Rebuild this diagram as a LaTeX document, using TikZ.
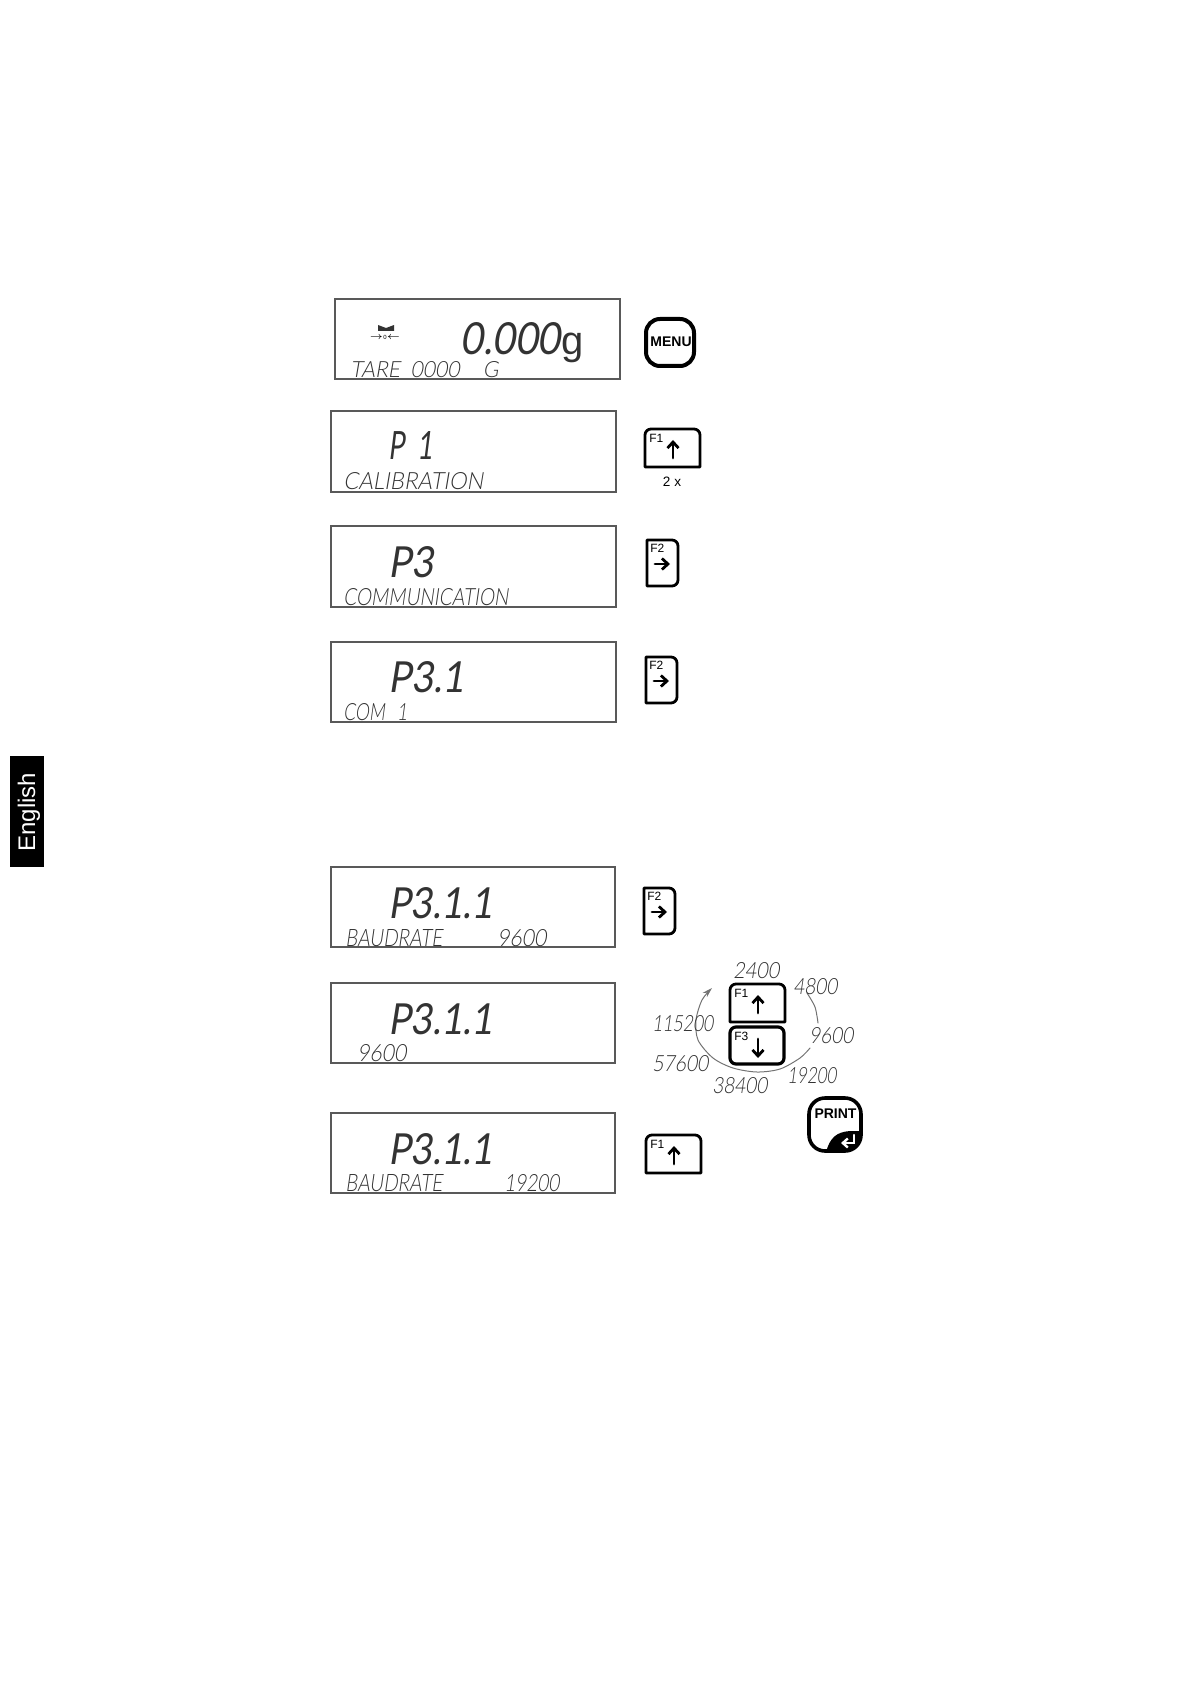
\documentclass[tikz,border=0pt]{standalone}
\usepackage{fontspec}
\usepackage{graphicx}
\setmainfont{Liberation Sans}
\newfontfamily\lcdfont[FakeSlant=0.18]{Lato Light}
\newfontfamily\lcdbigfont[FakeSlant=0.18]{Lato}
\usetikzlibrary{arrows.meta}

\newlength{\pxu}
\setlength{\pxu}{.5pt}

\tikzset{
	lcdbox/.style={draw=black!65, line width=.75pt},
	lcdtext/.style={anchor=south west, inner sep=0pt, text=black!80},
	keyframe/.style={draw=black, line width=1.4pt, line join=round},
	keyarrow/.style={line width=1.4pt, -{Straight Barb[length=3pt,width=5.5pt]}},
	keylabel/.style={anchor=north west, inner sep=0pt, font=\fontsize{6}{6}\selectfont},
	keytext/.style={inner sep=0pt, font=\bfseries\fontsize{7}{8}\selectfont},
}

% One line of display text, fitted to its width and height in pixels
\newcommand{\lcdline}[6]{\node[lcdtext] (#1) at (#2,#3) {\resizebox{#4\pxu}{#5\pxu}{\lcdfont #6}};}

% Key with F1 and arrow up, top left corner at (#2,#3)
\newcommand{\keyup}[3]{
	\draw[keyframe] (#2,#3+38) [rounded corners=3pt] -- (#2,#3) -- (#2+55,#3) [sharp corners] -- (#2+55,#3+38) -- cycle;
	\node[keylabel] (#1) at (#2+4,#3+5) {F1};
	\draw[keyarrow] (#2+28,#3+29) -- (#2+28,#3+11);
}

\begin{document}
\begin{tikzpicture}[x=.5pt, y=-.5pt, line cap=round]
	% Page size in pixels
	\useasboundingbox (0,0) rectangle (1191,1684);

	% Language tab
	\fill[black] (10,756) rectangle (44,867);
	\node[rotate=90, text=white, inner sep=0pt, font=\fontsize{12}{14}\selectfont] (tab) at (29,812) {English};

	% Display frames
	\draw[lcdbox] (335,299) rectangle (620,379);
	\foreach \ytop/\yend in {411/492,526/607,642/722} {
		\draw[lcdbox] (331,\ytop) rectangle (616,\yend);
	}
	\foreach \ytop/\yend in {867/947,983/1063,1113/1193} {
		\draw[lcdbox] (331,\ytop) rectangle (615,\yend);
	}

	% Display 1
	\lcdline{tare}{460}{355}{100}{32}{\lcdbigfont 0.000}
	\node[anchor=base west, inner sep=0pt, text=black!80, font=\fontsize{20}{20}\selectfont] (unit) at (561,355) {g};
	\lcdline{taresub}{350}{378}{148}{16}{TARE\hspace{.5em}0000\hspace{1.1em}G}
	\fill[black!80] (378,325) -- (386,328) -- (394,325) -- (394,331) -- (378,331) -- cycle;
	\node[inner sep=0pt, font=\fontsize{3}{3}\selectfont] (zero) at (385,337) {$\rightarrow$0$\leftarrow$};

	% Displays 2 to 4
	\lcdline{pone}{388}{460}{45}{28}{\lcdbigfont P\hspace{.5em}1}
	\lcdline{calib}{343}{490}{140}{17}{CALIBRATION}
	\lcdline{pthree}{388}{578}{45}{31}{\lcdbigfont P3}
	\lcdline{commun}{343}{606}{165}{17}{COMMUNICATION}
	\lcdline{pthreeone}{388}{693}{76}{31}{\lcdbigfont P3.1}
	\lcdline{comone}{343}{721}{64}{17}{COM\hspace{.7em}1}

	% Displays 5 to 7
	\foreach \name/\ybase in {pa/919,pb/1035,pc/1165} {
		\lcdline{\name}{388}{\ybase}{105}{31}{\lcdbigfont P3.1.1}
	}
	\lcdline{bauda}{345}{947}{97}{17}{BAUDRATE}
	\lcdline{ratea}{497}{947}{49}{17}{9600}
	\lcdline{rateb}{357}{1062}{49}{17}{9600}
	\lcdline{baudc}{345}{1192}{97}{17}{BAUDRATE}
	\lcdline{ratec}{504}{1192}{55}{17}{19200}

	% Menu key
	\draw[keyframe, line width=2pt, rounded corners=7pt] (646,319) rectangle (694,366);
	\node[keytext] (menu) at (671,342) {MENU};

	% F1 keys
	\keyup{fonea}{645}{429}
	\node[inner sep=0pt, font=\fontsize{6.8}{8}\selectfont] (times) at (672,482) {2 x};
	\keyup{foneb}{730}{984}
	\keyup{fonec}{646}{1135}

	% F2 keys
	\foreach \name/\x/\y in {ftwoa/647/540,ftwob/646/657,ftwoc/644/888} {
		\draw[keyframe] (\x,\y+46) [rounded corners=3pt] -- (\x+31,\y+46) -- (\x+31,\y) [sharp corners] -- (\x,\y) -- cycle;
		\node[keylabel] (\name) at (\x+3,\y+4) {F2};
		\draw[keyarrow] (\x+8,\y+24) -- (\x+23,\y+24);
	}

	% F3 key
	\draw[keyframe, line width=1.6pt, rounded corners=3pt] (730,1027) rectangle (784,1064);
	\node[keylabel] (fthree) at (734,1032) {F3};
	\draw[keyarrow] (758,1039) -- (758,1058);

	% Rate wheel
	\draw[black!55, line width=.5pt, smooth] plot coordinates {(807,993) (815,1007) (818,1023)};
	\draw[black!55, line width=.5pt, smooth, -{Stealth[length=5pt,width=3pt]}] plot coordinates {(810,1048) (800,1058) (780,1069) (757,1072) (733,1068) (713,1058) (698,1040) (696,1020) (702,1000) (712,988)};
	\lcdline{wa}{733}{979}{46}{16}{2400}
	\lcdline{wb}{793}{995}{44}{16}{4800}
	\lcdline{wc}{809}{1044}{44}{16}{9600}
	\lcdline{wd}{787}{1084}{49}{16}{19200}
	\lcdline{we}{712}{1094}{55}{16}{38400}
	\lcdline{wf}{652}{1072}{56}{16}{57600}
	\lcdline{wg}{652}{1032}{61}{16}{115200}

	% Print key
	\begin{scope}
		\clip[rounded corners=8pt] (809,1098) rectangle (861,1151);
		\fill[black] (826,1152) .. controls (830,1138) and (836,1132) .. (850,1131) -- (862,1131) -- (862,1152) -- cycle;
	\end{scope}
	\draw[keyframe, line width=1.8pt, rounded corners=8pt] (809,1098) rectangle (861,1151);
	\node[keytext] (print) at (835.5,1114) {PRINT};
	\draw[white, line width=1.2pt, -{Straight Barb[length=2.5pt,width=4.5pt]}] (854,1135) -- (854,1143) -- (841,1143);
\end{tikzpicture}
\end{document}
